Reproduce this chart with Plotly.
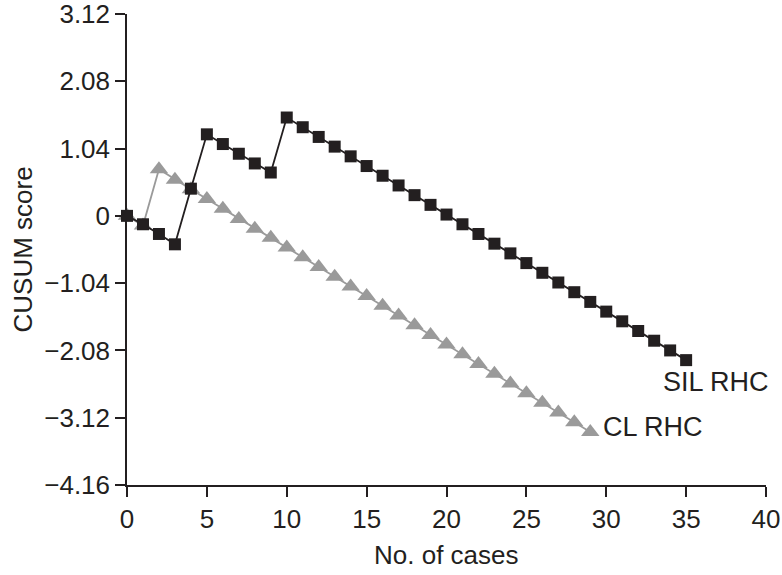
import plotly.graph_objects as go

cases_sil = list(range(0, 36))
sil_rhc = [0.00, -0.13, -0.28, -0.44, 0.42, 1.26, 1.11, 0.96, 0.81, 0.67,
           1.52, 1.37, 1.22, 1.07, 0.92, 0.77, 0.62, 0.47, 0.32, 0.17,
           0.02, -0.13, -0.28, -0.43, -0.58, -0.73, -0.88, -1.03, -1.18, -1.33,
           -1.48, -1.63, -1.78, -1.93, -2.08, -2.23]

cases_cl = list(range(0, 30))
cl_rhc = [0.00, -0.15, 0.72, 0.56, 0.41, 0.26, 0.11, -0.05, -0.20, -0.34,
          -0.49, -0.64, -0.79, -0.94, -1.09, -1.24, -1.39, -1.54, -1.69, -1.84,
          -1.99, -2.14, -2.29, -2.44, -2.59, -2.74, -2.89, -3.04, -3.19, -3.34]

y_ticks = [3.12, 2.08, 1.04, 0, -1.04, -2.08, -3.12, -4.16]
y_tick_text = ["3.12", "2.08", "1.04", "0", "\u22121.04", "\u22122.08", "\u22123.12", "\u22124.16"]
x_ticks = [0, 5, 10, 15, 20, 25, 30, 35, 40]

DARK = "#231f20"
GREY = "#9a9a9a"
FONT = "Liberation Sans, Arial, sans-serif"

fig = go.Figure()
fig.add_trace(go.Scatter(
    x=cases_cl, y=cl_rhc, mode="lines+markers", name="CL RHC",
    line=dict(color=GREY, width=1.8),
    marker=dict(symbol="triangle-up", size=16, color=GREY),
    cliponaxis=False,
))
fig.add_trace(go.Scatter(
    x=cases_sil, y=sil_rhc, mode="lines+markers", name="SIL RHC",
    line=dict(color=DARK, width=1.8),
    marker=dict(symbol="square", size=12, color=DARK),
    cliponaxis=False,
))

fig.add_annotation(x=36.9, y=-2.57, text="SIL RHC", showarrow=False,
                   font=dict(size=27, color=DARK, family=FONT))
fig.add_annotation(x=32.9, y=-3.26, text="CL RHC", showarrow=False,
                   font=dict(size=27, color=DARK, family=FONT))

# axis titles
fig.add_annotation(xref="paper", yref="paper", x=0, y=0.5, xshift=-105,
                   xanchor="center", yanchor="middle",
                   text="CUSUM score", textangle=-90, showarrow=False,
                   font=dict(size=26, color=DARK, family=FONT))
fig.add_annotation(xref="paper", yref="paper", x=0.5, y=0, yshift=-70,
                   xanchor="center", yanchor="middle",
                   text="No. of cases", showarrow=False,
                   font=dict(size=26, color=DARK, family=FONT))

fig.update_layout(
    width=782, height=575,
    margin=dict(l=127, r=16, t=14, b=90),
    paper_bgcolor="white", plot_bgcolor="white",
    showlegend=False,
    font=dict(family=FONT, size=26, color=DARK),
)
fig.update_xaxes(
    range=[0, 40], tickvals=x_ticks, ticks="outside", ticklen=10, tickwidth=1.5,
    tickcolor=DARK, showline=True, linecolor=DARK, linewidth=1.5,
    showgrid=False, zeroline=False, automargin=False, ticklabeloverflow="allow",
    tickfont=dict(size=26),
)
fig.update_yaxes(
    range=[-4.16, 3.12], tickvals=y_ticks, ticktext=y_tick_text, ticks="outside",
    ticklen=10, tickwidth=1.5, tickcolor=DARK, showline=True, linecolor=DARK,
    linewidth=1.5, showgrid=False, zeroline=False, automargin=False,
    ticklabeloverflow="allow", tickfont=dict(size=26),
)

fig.write_html(
    "out.html",
    config={"displayModeBar": False},
    post_script="document.body.style.margin='0px';document.documentElement.style.overflow='hidden';",
)
